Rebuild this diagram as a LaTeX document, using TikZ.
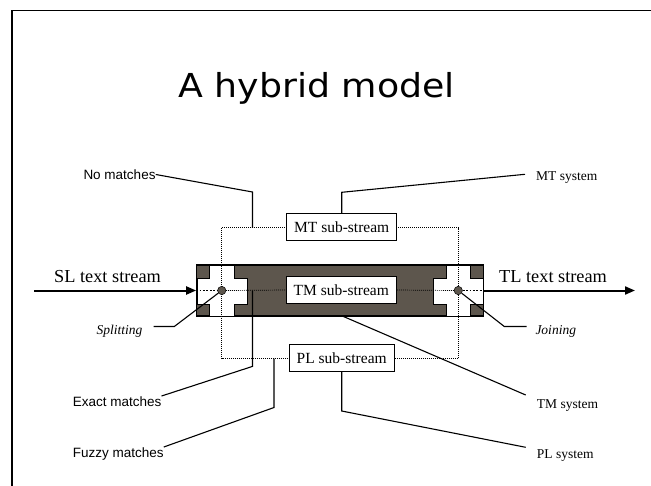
\documentclass[tikz,border=0pt]{standalone}
\usepackage{fontspec}
\setmainfont{Liberation Serif}
\newfontfamily\arialf{Liberation Sans}
\newfontfamily\titlef{DejaVu Sans}
\usetikzlibrary{arrows.meta}
\definecolor{boxdark}{RGB}{93,86,77}
\begin{document}
\begin{tikzpicture}[x=1pt,y=-1pt,
  lbl/.style={anchor=base west, inner sep=0pt, font=\arialf\fontsize{13.5}{16}\selectfont},
  sys/.style={anchor=base west, inner sep=0pt, font=\fontsize{13.5}{16}\selectfont},
  itl/.style={anchor=base west, inner sep=0pt, font=\itshape\fontsize{13.5}{16}\selectfont},
  stream/.style={anchor=base west, inner sep=0pt, font=\fontsize{18.3}{22}\selectfont},
  subbox/.style={draw, line width=1.1pt, fill=white, inner sep=0pt, minimum height=26.7pt, font=\fontsize{15.5}{18}\selectfont},
  conn/.style={line width=1.1pt},
  dotln/.style={dash pattern=on 1pt off 1pt, line width=0.7pt},
  thickdot/.style={dash pattern=on 1.8pt off 1.6pt, line width=1.8pt},
  crossbox/.style={fill=white, draw, line width=0.4pt},
  dotnode/.style={circle, draw, fill=boxdark, minimum size=8.4pt, inner sep=0pt, line width=0.5pt},
  bigarrow/.style={line width=2pt, -{Triangle[length=10pt,width=8pt]}}
]
\useasboundingbox (0,0) rectangle (651,485);
\fill[white] (0,0) rectangle (651,485);

% slide frame
\coordinate (fbl) at (12,487);
\coordinate (ftl) at (12,10.7);
\coordinate (ftr) at (653,10.7);
\draw[line width=1.3pt] (fbl) -- (ftl) -- (ftr);

% title
\node[anchor=base, inner sep=0pt, font=\titlef\fontsize{33}{40}\selectfont] (title) at (316.5,97) {\scalebox{1.1}[1]{A hybrid model}};

% main dark box
\node[draw, fill=boxdark, line width=1.1pt, minimum width=286.6pt, minimum height=51pt, inner sep=0pt] (main) at (340,290.5) {};

% white crosses
\draw[crossbox] (209.5,265) -- (234,265) -- (234,278) -- (247,278) -- (247,304) -- (234,304) -- (234,316) -- (209.5,316) -- (209.5,304) -- (196.7,304) -- (196.7,278) -- (209.5,278) -- cycle;
\draw[crossbox] (446,265) -- (470.5,265) -- (470.5,278) -- (483.3,278) -- (483.3,304) -- (470.5,304) -- (470.5,316) -- (446,316) -- (446,304) -- (433,304) -- (433,278) -- (446,278) -- cycle;
\draw[line width=1.1pt] (main.north west) rectangle (main.south east);

% dotted rectangle
\coordinate (drA) at (221.75,227.8);
\coordinate (drB) at (458.25,358.7);
\draw[dotln] (drA) rectangle (drB);

% sub-stream boxes
\node[subbox, minimum width=110pt] (mt) at (341.7,226.7) {MT sub-stream};
\node[subbox, minimum width=110pt] (tm) at (341.3,290) {TM sub-stream};
\node[subbox, minimum width=104.7pt] (pl) at (341.7,357.7) {PL sub-stream};

% split / join dots
\node[dotnode] (split) at (221.75,290.5) {};
\node[dotnode] (join) at (458.25,290.5) {};

% centre dotted lines
\draw[thickdot] (main.west) -- (split.west);
\draw[dotln] (split.east) -- (tm.west);
\draw[dotln] (tm.east) -- (join.west);
\draw[thickdot] (join.east) -- (main.east);

% stream arrows
\coordinate (slin) at (34,290.5);
\coordinate (tlout) at (635,290.5);
\draw[bigarrow] (slin) -- (main.west);
\draw[bigarrow] (main.east) -- (tlout);

% labels
\node[stream] (sl) at (54,282) {SL text stream};
\node[stream] (tl) at (499,282) {TL text stream};
\node[lbl] (nomatch) at (83.3,179.3) {No matches};
\node[sys] (mtsys) at (536,180) {MT system};
\node[itl] (splitlbl) at (96.3,334) {Splitting};
\node[itl] (joinlbl) at (535.3,334) {Joining};
\node[lbl] (exact) at (72.6,406) {Exact matches};
\node[lbl] (fuzzy) at (72.6,457) {Fuzzy matches};
\node[sys] (tmsys) at (536.7,408) {TM system};
\node[sys] (plsys) at (536.7,458) {PL system};

% connector points
\coordinate (nm1) at (252.5,192);
\coordinate (nm2) at (252.5,227.8);
\coordinate (mt1) at (341.7,192.3);
\coordinate (mt2) at (525,174.3);
\coordinate (sp1) at (174.3,326.5);
\coordinate (sp2) at (153.5,326.5);
\coordinate (jn1) at (504.3,326.5);
\coordinate (jn2) at (526.5,326.5);
\coordinate (ex0) at (252.5,290.5);
\coordinate (ex1) at (252.5,366.4);
\coordinate (fz0) at (274,358.7);
\coordinate (fz1) at (274,407.5);
\coordinate (tm0) at (342.3,316);
\coordinate (tm1) at (525.7,395);
\coordinate (pl1) at (341.7,411);
\coordinate (pl2) at (525.7,447.3);

% connectors
\draw[conn] (nomatch.east) -- (nm1) -- (nm2);
\draw[conn] (mt.north) -- (mt1) -- (mt2);
\draw[conn] (split) -- (sp1) -- (sp2);
\draw[conn] (join) -- (jn1) -- (jn2);
\draw[conn] (ex0) -- (ex1) -- (exact.north east);
\draw[conn] (fz0) -- (fz1) -- (fuzzy.north east);
\draw[conn] (tm0) -- (tm1);
\draw[conn] (pl.south) -- (pl1) -- (pl2);
\end{tikzpicture}
\end{document}
